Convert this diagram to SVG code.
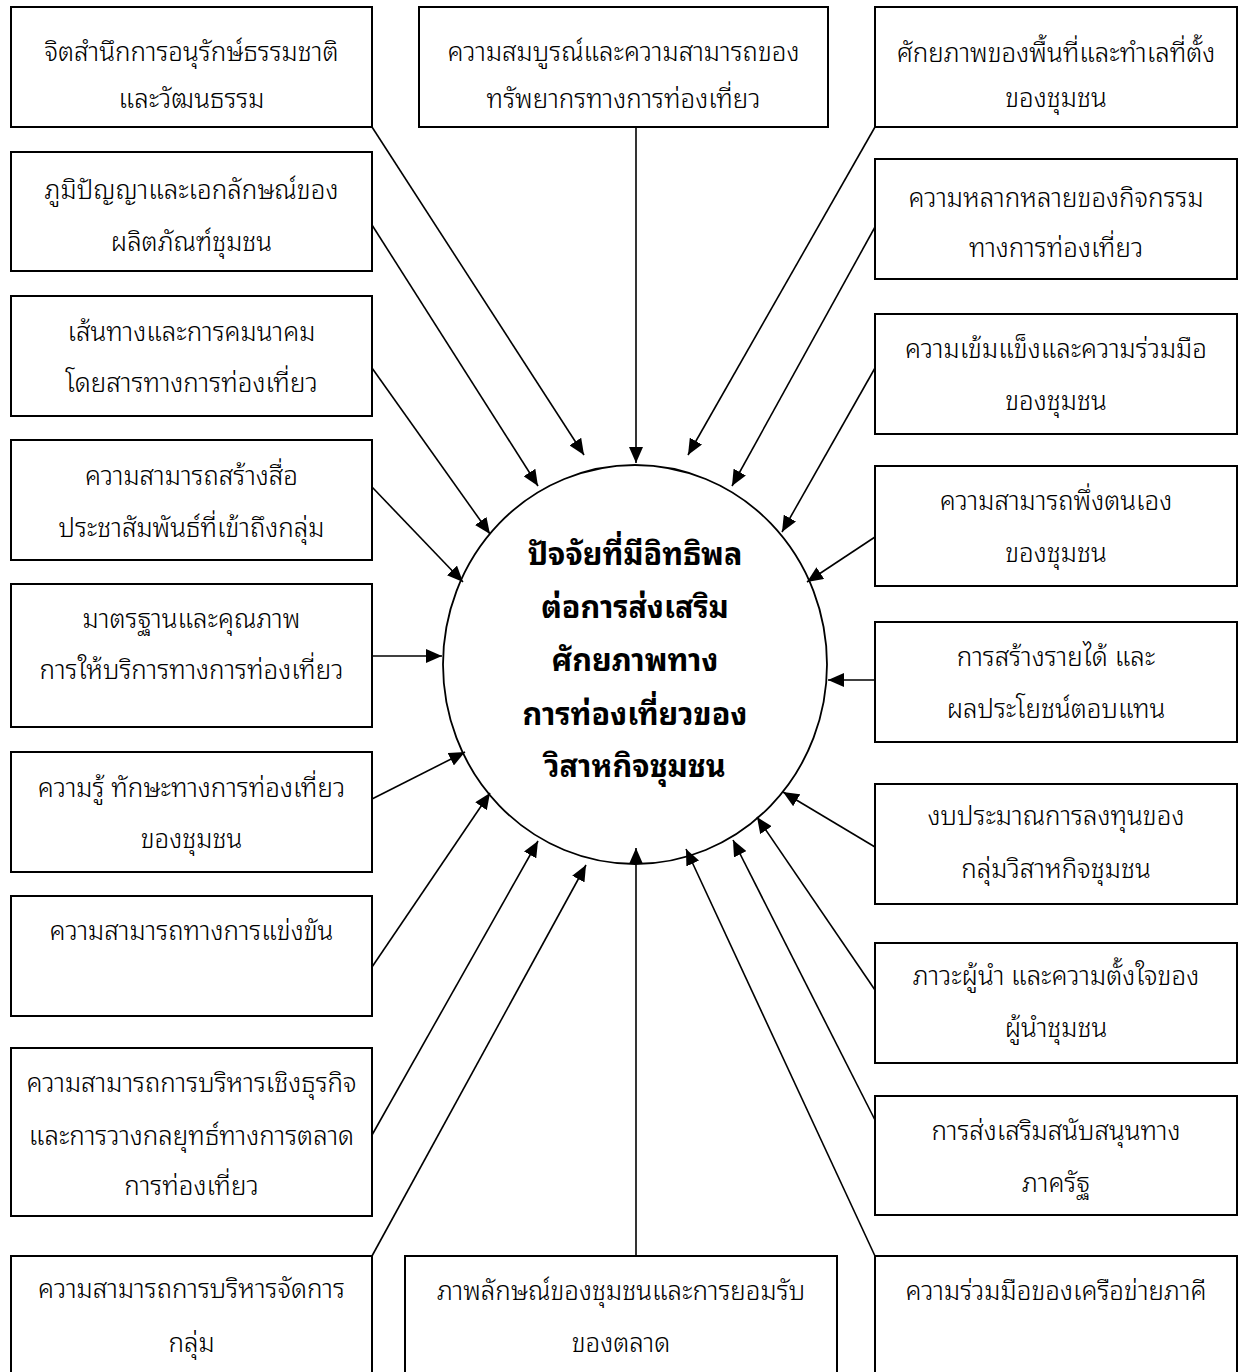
<svg xmlns="http://www.w3.org/2000/svg" width="1240" height="1372" viewBox="0 0 1240 1372">
<style>
.box{fill:#fff;stroke:#000;stroke-width:2}
.t{font-family:"Noto Sans Thai Looped","Noto Sans Thai","Noto Sans","DejaVu Sans",sans-serif;font-size:26px;font-weight:300;text-anchor:middle;fill:#000}
.c{font-family:"Noto Sans Thai Looped","Noto Sans Thai","Noto Sans","DejaVu Sans",sans-serif;font-size:30.5px;font-weight:bold;text-anchor:middle;fill:#000}
.ln{stroke:#000;stroke-width:1.6;fill:none}
</style>
<defs>
<marker id="ah" markerUnits="userSpaceOnUse" markerWidth="16" markerHeight="14" refX="16" refY="7" orient="auto">
<path d="M0,0 L16,7 L0,14 z" fill="#000"/>
</marker>
</defs>
<rect width="1240" height="1372" fill="#fff"/>
<g id="connectors">
<line class="ln" x1="372" y1="127" x2="584" y2="455" marker-end="url(#ah)"/>
<line class="ln" x1="636" y1="127" x2="636" y2="463" marker-end="url(#ah)"/>
<line class="ln" x1="875" y1="127" x2="688" y2="455" marker-end="url(#ah)"/>
<line class="ln" x1="372" y1="225" x2="538" y2="486" marker-end="url(#ah)"/>
<line class="ln" x1="875" y1="227" x2="732" y2="486" marker-end="url(#ah)"/>
<line class="ln" x1="372" y1="368" x2="490" y2="534" marker-end="url(#ah)"/>
<line class="ln" x1="875" y1="368" x2="782" y2="532" marker-end="url(#ah)"/>
<line class="ln" x1="372" y1="487" x2="463" y2="582" marker-end="url(#ah)"/>
<line class="ln" x1="875" y1="537" x2="807" y2="582" marker-end="url(#ah)"/>
<line class="ln" x1="372" y1="656" x2="442" y2="656" marker-end="url(#ah)"/>
<line class="ln" x1="875" y1="680" x2="828" y2="680" marker-end="url(#ah)"/>
<line class="ln" x1="372" y1="799" x2="465" y2="752" marker-end="url(#ah)"/>
<line class="ln" x1="875" y1="847" x2="783" y2="792" marker-end="url(#ah)"/>
<line class="ln" x1="372" y1="967" x2="490" y2="793" marker-end="url(#ah)"/>
<line class="ln" x1="875" y1="990" x2="757" y2="817" marker-end="url(#ah)"/>
<line class="ln" x1="372" y1="1135" x2="538" y2="841" marker-end="url(#ah)"/>
<line class="ln" x1="875" y1="1120" x2="733" y2="840" marker-end="url(#ah)"/>
<line class="ln" x1="372" y1="1256" x2="586" y2="865" marker-end="url(#ah)"/>
<line class="ln" x1="636" y1="1256" x2="636" y2="848" marker-end="url(#ah)"/>
<line class="ln" x1="875" y1="1256" x2="686" y2="849" marker-end="url(#ah)"/>
</g>
<g id="center">
<ellipse cx="635" cy="664.5" rx="192" ry="199.5" fill="none" stroke="#000" stroke-width="1.8"/>
<text class="c" x="635" y="565">ปัจจัยที่มีอิทธิพล</text>
<text class="c" x="635" y="618">ต่อการส่งเสริม</text>
<text class="c" x="635" y="671">ศักยภาพทาง</text>
<text class="c" x="635" y="725">การท่องเที่ยวของ</text>
<text class="c" x="635" y="777">วิสาหกิจชุมชน</text>
</g>
<g id="L1"><rect class="box" x="11" y="7" width="361" height="120"/><text class="t" x="191.5" y="61">จิตสำนึกการอนุรักษ์ธรรมชาติ</text><text class="t" x="191.5" y="108">และวัฒนธรรม</text></g>
<g id="L2"><rect class="box" x="11" y="152" width="361" height="119"/><text class="t" x="191.5" y="199">ภูมิปัญญาและเอกลักษณ์ของ</text><text class="t" x="191.5" y="251">ผลิตภัณฑ์ชุมชน</text></g>
<g id="L3"><rect class="box" x="11" y="296" width="361" height="120"/><text class="t" x="191.5" y="341">เส้นทางและการคมนาคม</text><text class="t" x="191.5" y="392">โดยสารทางการท่องเที่ยว</text></g>
<g id="L4"><rect class="box" x="11" y="440" width="361" height="120"/><text class="t" x="191.5" y="485">ความสามารถสร้างสื่อ</text><text class="t" x="191.5" y="537">ประชาสัมพันธ์ที่เข้าถึงกลุ่ม</text></g>
<g id="L5"><rect class="box" x="11" y="584" width="361" height="143"/><text class="t" x="191.5" y="628">มาตรฐานและคุณภาพ</text><text class="t" x="191.5" y="679">การให้บริการทางการท่องเที่ยว</text></g>
<g id="L6"><rect class="box" x="11" y="752" width="361" height="120"/><text class="t" x="191.5" y="797">ความรู้ ทักษะทางการท่องเที่ยว</text><text class="t" x="191.5" y="848">ของชุมชน</text></g>
<g id="L7"><rect class="box" x="11" y="896" width="361" height="120"/><text class="t" x="191.5" y="940">ความสามารถทางการแข่งขัน</text></g>
<g id="L8"><rect class="box" x="11" y="1048" width="361" height="168"/><text class="t" x="191.5" y="1092">ความสามารถการบริหารเชิงธุรกิจ</text><text class="t" x="191.5" y="1145">และการวางกลยุทธ์ทางการตลาด</text><text class="t" x="191.5" y="1195">การท่องเที่ยว</text></g>
<g id="L9"><rect class="box" x="11" y="1256" width="361" height="130"/><text class="t" x="191.5" y="1298">ความสามารถการบริหารจัดการ</text><text class="t" x="191.5" y="1352">กลุ่ม</text></g>
<g id="T1"><rect class="box" x="419" y="7" width="409" height="120"/><text class="t" x="623.5" y="61">ความสมบูรณ์และความสามารถของ</text><text class="t" x="623.5" y="108">ทรัพยากรทางการท่องเที่ยว</text></g>
<g id="B1"><rect class="box" x="405" y="1256" width="432" height="130"/><text class="t" x="621" y="1300">ภาพลักษณ์ของชุมชนและการยอมรับ</text><text class="t" x="621" y="1352">ของตลาด</text></g>
<g id="R1"><rect class="box" x="875" y="7" width="362" height="120"/><text class="t" x="1056" y="62">ศักยภาพของพื้นที่และทำเลที่ตั้ง</text><text class="t" x="1056" y="107">ของชุมชน</text></g>
<g id="R2"><rect class="box" x="875" y="159" width="362" height="120"/><text class="t" x="1056" y="207">ความหลากหลายของกิจกรรม</text><text class="t" x="1056" y="257">ทางการท่องเที่ยว</text></g>
<g id="R3"><rect class="box" x="875" y="314" width="362" height="120"/><text class="t" x="1056" y="358">ความเข้มแข็งและความร่วมมือ</text><text class="t" x="1056" y="410">ของชุมชน</text></g>
<g id="R4"><rect class="box" x="875" y="466" width="362" height="120"/><text class="t" x="1056" y="510">ความสามารถพึ่งตนเอง</text><text class="t" x="1056" y="562">ของชุมชน</text></g>
<g id="R5"><rect class="box" x="875" y="622" width="362" height="120"/><text class="t" x="1056" y="666">การสร้างรายได้ และ</text><text class="t" x="1056" y="718">ผลประโยชน์ตอบแทน</text></g>
<g id="R6"><rect class="box" x="875" y="784" width="362" height="120"/><text class="t" x="1056" y="825">งบประมาณการลงทุนของ</text><text class="t" x="1056" y="878">กลุ่มวิสาหกิจชุมชน</text></g>
<g id="R7"><rect class="box" x="875" y="943" width="362" height="120"/><text class="t" x="1056" y="985">ภาวะผู้นำ และความตั้งใจของ</text><text class="t" x="1056" y="1037">ผู้นำชุมชน</text></g>
<g id="R8"><rect class="box" x="875" y="1096" width="362" height="119"/><text class="t" x="1056" y="1140">การส่งเสริมสนับสนุนทาง</text><text class="t" x="1056" y="1192">ภาครัฐ</text></g>
<g id="R9"><rect class="box" x="875" y="1256" width="362" height="130"/><text class="t" x="1056" y="1300">ความร่วมมือของเครือข่ายภาคี</text></g>
</svg>
